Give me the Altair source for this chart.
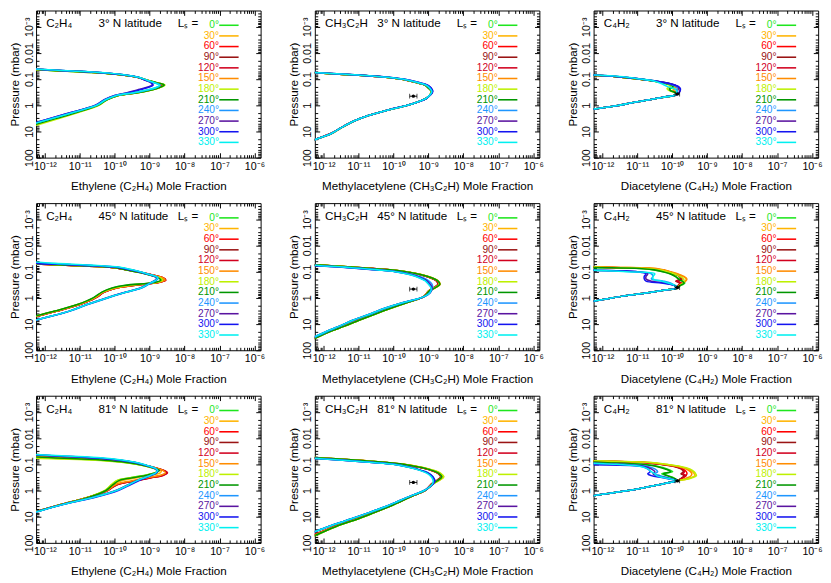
import json
import altair as alt
import pandas as pd

FONT = "Liberation Sans"
W, H = 232, 152

SEASONS = ["0°", "30°", "60°", "90°", "120°", "150°", "180°", "210°", "240°", "270°", "300°", "330°"]
SEASON_COLORS = ["#1ee61e", "#ffb400", "#ff0000", "#9a1414", "#d2001e", "#ff8c00",
                 "#bef000", "#009600", "#1e96ff", "#5a14a0", "#1414f0", "#00f0f0"]

X_DOMAIN = [5.6e-13, 1.5e-6]
Y_DOMAIN = [2.4e-4, 100]
X_MAJOR = [1e-12, 1e-11, 1e-10, 1e-9, 1e-8, 1e-7, 1e-6]
X_LABELS = ["10⁻¹²", "10⁻¹¹", "10⁻¹⁰", "10⁻⁹", "10⁻⁸", "10⁻⁷", "10⁻⁶"]
Y_MAJOR = [1e-3, 1e-2, 1e-1, 1, 10, 100]
Y_LABELS = ["10⁻³", "0.01", "0.1", "1", "10", "100"]
X_MINOR = [k * 10.0 ** e for e in range(-13, -5) for k in range(2, 10)
           if X_DOMAIN[0] <= k * 10.0 ** e <= X_DOMAIN[1]]
Y_MINOR = [k * 10.0 ** e for e in range(-4, 2) for k in range(2, 10)
           if Y_DOMAIN[0] <= k * 10.0 ** e <= Y_DOMAIN[1]]

# ---- pressure grids (mbar) ----
P_C2H4 = [0.036, 0.042, 0.048, 0.056, 0.068, 0.085, 0.11, 0.14, 0.17, 0.21, 0.26, 0.33, 0.42, 0.6, 1.0, 1.8, 3.2, 5.5, 9.0]
P_CH3C2H = [0.045, 0.052, 0.06, 0.07, 0.085, 0.1, 0.13, 0.17, 0.22, 0.3, 0.4, 0.55, 0.75, 1.0, 1.5, 2.5, 4.0, 7.0, 12.0, 20.0, 35.0, 60.0]
P_C4H2 = [0.06, 0.068, 0.075, 0.085, 0.1, 0.12, 0.15, 0.19, 0.23, 0.27, 0.32, 0.37, 0.42, 0.5, 0.62, 0.8, 1.05, 1.4, 1.9]

# ---- log10 mole fraction ----
C2H4_03N = {
    "0°":   [-13.0, -12.35, -11.55, -10.55, -9.8, -9.33, -9.07, -8.78, -8.58, -8.72, -8.95, -9.35, -9.9, -10.22, -10.5, -11.1, -11.75, -12.35, -12.9],
    "30°":  [-13.0, -12.35, -11.55, -10.6, -9.8, -9.35, -9.08, -8.8, -8.6, -8.73, -8.97, -9.37, -9.9, -10.22, -10.5, -11.1, -11.75, -12.35, -12.9],
    "60°":  [-13.0, -12.3, -11.5, -10.55, -9.82, -9.35, -9.08, -8.82, -8.63, -8.75, -8.98, -9.4, -9.92, -10.23, -10.5, -11.12, -11.78, -12.38, -12.95],
    "90°":  [-13.0, -12.3, -11.5, -10.55, -9.82, -9.35, -9.1, -8.83, -8.64, -8.76, -9.0, -9.4, -9.93, -10.23, -10.5, -11.12, -11.78, -12.38, -12.95],
    "120°": [-13.0, -12.3, -11.5, -10.55, -9.82, -9.36, -9.1, -8.83, -8.63, -8.75, -8.99, -9.4, -9.92, -10.23, -10.5, -11.12, -11.78, -12.38, -12.95],
    "150°": [-13.0, -12.32, -11.52, -10.55, -9.8, -9.34, -9.08, -8.81, -8.61, -8.74, -8.97, -9.38, -9.9, -10.22, -10.5, -11.1, -11.76, -12.36, -12.92],
    "180°": [-13.1, -12.45, -11.65, -10.65, -9.85, -9.35, -9.07, -8.77, -8.56, -8.7, -8.93, -9.33, -9.88, -10.2, -10.45, -11.0, -11.6, -12.2, -12.75],
    "210°": [-13.05, -12.4, -11.6, -10.6, -9.83, -9.34, -9.07, -8.78, -8.58, -8.72, -8.95, -9.35, -9.9, -10.21, -10.48, -11.05, -11.7, -12.3, -12.85],
    "240°": [-12.9, -12.2, -11.4, -10.45, -9.75, -9.32, -9.08, -8.85, -8.7, -8.8, -9.05, -9.45, -9.95, -10.25, -10.52, -11.15, -11.8, -12.42, -13.0],
    "270°": [-12.9, -12.2, -11.4, -10.45, -9.75, -9.33, -9.12, -8.95, -8.93, -9.1, -9.35, -9.65, -10.0, -10.28, -10.55, -11.2, -11.85, -12.47, -13.05],
    "300°": [-12.9, -12.2, -11.4, -10.45, -9.75, -9.33, -9.12, -8.95, -8.9, -9.05, -9.3, -9.62, -10.0, -10.28, -10.55, -11.2, -11.85, -12.47, -13.05],
    "330°": [-12.85, -12.15, -11.35, -10.4, -9.73, -9.32, -9.08, -8.85, -8.72, -8.82, -9.08, -9.47, -9.96, -10.25, -10.52, -11.15, -11.8, -12.42, -13.0],
}
C2H4_45N = {
    "0°":   [-13.4, -13.0, -12.5, -11.3, -10.1, -9.65, -9.25, -8.95, -8.75, -8.66, -8.85, -9.65, -10.05, -10.35, -10.6, -11.05, -11.7, -12.4, -13.0],
    "30°":  [-13.5, -13.1, -12.6, -11.4, -10.15, -9.65, -9.22, -8.9, -8.68, -8.6, -8.8, -9.55, -10.0, -10.33, -10.58, -11.05, -11.7, -12.4, -13.0],
    "60°":  [-13.5, -13.1, -12.6, -11.4, -10.15, -9.62, -9.2, -8.85, -8.62, -8.54, -8.75, -9.4, -9.95, -10.3, -10.55, -11.0, -11.65, -12.35, -12.95],
    "90°":  [-13.5, -13.1, -12.6, -11.4, -10.15, -9.62, -9.2, -8.86, -8.63, -8.55, -8.77, -9.42, -9.95, -10.3, -10.55, -11.0, -11.65, -12.35, -12.95],
    "120°": [-13.5, -13.1, -12.6, -11.4, -10.15, -9.62, -9.2, -8.85, -8.62, -8.54, -8.76, -9.4, -9.95, -10.3, -10.55, -11.0, -11.65, -12.35, -12.95],
    "150°": [-13.5, -13.1, -12.6, -11.4, -10.15, -9.63, -9.2, -8.86, -8.63, -8.56, -8.78, -9.45, -9.97, -10.32, -10.57, -11.02, -11.67, -12.37, -12.97],
    "180°": [-13.4, -13.0, -12.5, -11.3, -10.1, -9.63, -9.22, -8.9, -8.7, -8.63, -8.83, -9.6, -10.03, -10.35, -10.6, -11.05, -11.7, -12.4, -13.0],
    "210°": [-13.4, -13.0, -12.5, -11.3, -10.1, -9.65, -9.25, -8.95, -8.76, -8.68, -8.88, -9.7, -10.08, -10.37, -10.62, -11.07, -11.72, -12.42, -13.02],
    "240°": [-13.0, -12.6, -12.0, -10.9, -9.9, -9.52, -9.18, -8.9, -8.76, -8.8, -8.93, -9.08, -9.23, -9.65, -10.2, -10.78, -11.28, -11.93, -12.58],
    "270°": [-13.1, -12.7, -12.2, -11.0, -9.95, -9.55, -9.2, -8.93, -8.8, -8.84, -8.97, -9.12, -9.27, -9.68, -10.24, -10.8, -11.3, -11.95, -12.6],
    "300°": [-13.1, -12.7, -12.2, -11.0, -9.95, -9.55, -9.2, -8.92, -8.78, -8.82, -8.95, -9.1, -9.25, -9.67, -10.23, -10.8, -11.3, -11.95, -12.6],
    "330°": [-12.8, -12.3, -11.7, -10.7, -9.85, -9.5, -9.17, -8.9, -8.77, -8.82, -8.96, -9.1, -9.25, -9.66, -10.22, -10.8, -11.3, -11.95, -12.6],
}
C2H4_81N = {
    "0°":   [-13.7, -13.3, -12.8, -12.0, -10.5, -9.7, -9.18, -8.88, -8.73, -8.85, -9.12, -9.58, -9.93, -10.08, -10.27, -10.75, -11.45, -12.1, -12.65],
    "30°":  [-13.7, -13.3, -12.8, -11.9, -10.45, -9.65, -9.15, -8.82, -8.66, -8.7, -8.95, -9.4, -9.8, -10.05, -10.25, -10.75, -11.45, -12.1, -12.65],
    "60°":  [-13.4, -12.9, -12.3, -11.2, -10.1, -9.5, -9.1, -8.8, -8.6, -8.5, -8.62, -9.0, -9.4, -9.95, -10.22, -10.75, -11.45, -12.1, -12.65],
    "90°":  [-13.4, -12.9, -12.3, -11.2, -10.1, -9.5, -9.1, -8.8, -8.6, -8.52, -8.65, -9.03, -9.42, -9.95, -10.2, -10.75, -11.45, -12.1, -12.65],
    "120°": [-13.4, -12.9, -12.3, -11.2, -10.1, -9.5, -9.1, -8.8, -8.6, -8.49, -8.6, -8.98, -9.38, -9.93, -10.2, -10.73, -11.43, -12.08, -12.63],
    "150°": [-13.5, -13.0, -12.4, -11.4, -10.2, -9.52, -9.1, -8.8, -8.62, -8.55, -8.7, -9.1, -9.5, -9.98, -10.22, -10.75, -11.45, -12.1, -12.65],
    "180°": [-13.8, -13.5, -13.0, -12.6, -10.7, -9.75, -9.2, -8.9, -8.72, -8.85, -9.1, -9.6, -9.95, -10.1, -10.28, -10.75, -11.45, -12.1, -12.65],
    "210°": [-13.6, -13.2, -12.7, -11.8, -10.4, -9.65, -9.17, -8.87, -8.72, -8.83, -9.08, -9.52, -9.88, -10.05, -10.25, -10.73, -11.43, -12.08, -12.63],
    "240°": [-13.0, -12.4, -11.6, -10.6, -9.85, -9.4, -9.08, -8.85, -8.77, -8.8, -8.95, -9.15, -9.35, -9.6, -9.95, -10.6, -11.4, -12.05, -12.6],
    "270°": [-13.1, -12.5, -11.7, -10.7, -9.9, -9.42, -9.1, -8.87, -8.8, -8.82, -8.97, -9.18, -9.38, -9.62, -9.97, -10.62, -11.42, -12.07, -12.62],
    "300°": [-13.1, -12.5, -11.7, -10.7, -9.9, -9.42, -9.1, -8.86, -8.78, -8.8, -8.95, -9.12, -9.3, -9.55, -9.9, -10.55, -11.4, -12.05, -12.6],
    "330°": [-12.9, -12.25, -11.4, -10.4, -9.8, -9.38, -9.07, -8.85, -8.78, -8.82, -8.97, -9.17, -9.36, -9.6, -9.95, -10.6, -11.4, -12.05, -12.6],
}
CH3C2H_03N = {
    "0°":   [-13.4, -12.7, -12.0, -11.1, -10.21, -9.78, -9.4, -9.1, -9.0, -8.91, -8.96, -9.07, -9.31, -9.6, -10.15, -10.74, -11.13, -11.48, -11.78, -12.22, -12.6, -13.0],
    "30°":  [-13.4, -12.7, -12.0, -11.1, -10.22, -9.79, -9.4, -9.1, -8.99, -8.91, -8.96, -9.07, -9.31, -9.6, -10.15, -10.74, -11.13, -11.48, -11.78, -12.22, -12.6, -13.0],
    "60°":  [-13.4, -12.7, -12.0, -11.1, -10.22, -9.79, -9.41, -9.1, -8.99, -8.9, -8.95, -9.07, -9.31, -9.6, -10.15, -10.74, -11.13, -11.48, -11.79, -12.23, -12.61, -13.0],
    "90°":  [-13.4, -12.7, -12.0, -11.1, -10.22, -9.79, -9.41, -9.1, -8.99, -8.9, -8.95, -9.07, -9.31, -9.6, -10.15, -10.74, -11.13, -11.48, -11.79, -12.23, -12.61, -13.0],
    "120°": [-13.4, -12.7, -12.0, -11.1, -10.22, -9.79, -9.41, -9.1, -8.99, -8.9, -8.95, -9.07, -9.31, -9.6, -10.15, -10.74, -11.13, -11.48, -11.79, -12.23, -12.61, -13.0],
    "150°": [-13.4, -12.7, -12.0, -11.1, -10.22, -9.79, -9.4, -9.1, -8.99, -8.91, -8.96, -9.07, -9.31, -9.6, -10.15, -10.74, -11.13, -11.48, -11.78, -12.22, -12.6, -13.0],
    "180°": [-13.42, -12.72, -12.02, -11.12, -10.23, -9.8, -9.41, -9.11, -9.0, -8.91, -8.96, -9.07, -9.31, -9.6, -10.14, -10.73, -11.12, -11.46, -11.76, -12.2, -12.58, -12.98],
    "210°": [-13.4, -12.7, -12.0, -11.1, -10.21, -9.78, -9.4, -9.1, -9.0, -8.91, -8.96, -9.07, -9.31, -9.6, -10.15, -10.74, -11.13, -11.48, -11.78, -12.22, -12.6, -13.0],
    "240°": [-13.35, -12.65, -11.95, -11.05, -10.18, -9.76, -9.38, -9.08, -8.97, -8.9, -8.95, -9.07, -9.31, -9.6, -10.15, -10.74, -11.13, -11.48, -11.78, -12.22, -12.6, -13.0],
    "270°": [-13.3, -12.6, -11.9, -11.0, -10.15, -9.72, -9.33, -9.03, -8.93, -8.88, -8.94, -9.06, -9.3, -9.6, -10.15, -10.74, -11.13, -11.48, -11.78, -12.22, -12.6, -13.0],
    "300°": [-13.3, -12.6, -11.9, -11.0, -10.14, -9.71, -9.32, -9.02, -8.92, -8.88, -8.94, -9.06, -9.3, -9.6, -10.15, -10.74, -11.13, -11.48, -11.78, -12.22, -12.6, -13.0],
    "330°": [-13.3, -12.6, -11.9, -11.0, -10.15, -9.74, -9.36, -9.06, -8.96, -8.9, -8.95, -9.07, -9.31, -9.6, -10.15, -10.74, -11.13, -11.48, -11.78, -12.22, -12.6, -13.0],
}
CH3C2H_45N = {
    "0°":   [-13.2, -12.5, -11.7, -10.9, -10.1, -9.65, -9.2, -8.92, -8.75, -8.68, -8.8, -8.98, -9.06, -9.2, -9.6, -10.08, -10.5, -10.97, -11.4, -11.85, -12.25, -12.7],
    "30°":  [-13.2, -12.5, -11.7, -10.9, -10.1, -9.63, -9.18, -8.9, -8.73, -8.66, -8.78, -8.97, -9.06, -9.2, -9.6, -10.08, -10.5, -10.97, -11.4, -11.85, -12.25, -12.7],
    "60°":  [-13.25, -12.55, -11.75, -10.95, -10.12, -9.67, -9.22, -8.94, -8.77, -8.72, -8.83, -9.0, -9.08, -9.2, -9.63, -10.12, -10.53, -11.0, -11.42, -11.87, -12.27, -12.72],
    "90°":  [-13.25, -12.55, -11.75, -10.95, -10.13, -9.68, -9.23, -8.95, -8.78, -8.73, -8.84, -9.0, -9.08, -9.2, -9.63, -10.12, -10.53, -11.0, -11.42, -11.87, -12.27, -12.72],
    "120°": [-13.25, -12.55, -11.75, -10.95, -10.12, -9.67, -9.22, -8.94, -8.77, -8.71, -8.82, -8.99, -9.07, -9.2, -9.63, -10.12, -10.53, -11.0, -11.42, -11.87, -12.27, -12.72],
    "150°": [-13.2, -12.5, -11.7, -10.9, -10.1, -9.64, -9.19, -8.91, -8.74, -8.68, -8.79, -8.98, -9.07, -9.2, -9.61, -10.1, -10.51, -10.98, -11.41, -11.86, -12.26, -12.71],
    "180°": [-13.2, -12.5, -11.7, -10.9, -10.1, -9.64, -9.19, -8.91, -8.74, -8.69, -8.81, -8.99, -9.07, -9.2, -9.6, -10.08, -10.5, -10.97, -11.4, -11.85, -12.25, -12.7],
    "210°": [-13.2, -12.5, -11.7, -10.9, -10.1, -9.65, -9.2, -8.91, -8.74, -8.67, -8.79, -8.98, -9.06, -9.2, -9.6, -10.08, -10.5, -10.97, -11.4, -11.85, -12.25, -12.7],
    "240°": [-13.35, -12.7, -12.0, -11.2, -10.4, -9.88, -9.42, -9.15, -9.0, -8.9, -8.88, -8.92, -9.02, -9.2, -9.7, -10.22, -10.62, -11.12, -11.52, -11.92, -12.32, -12.72],
    "270°": [-13.4, -12.75, -12.05, -11.25, -10.45, -9.92, -9.47, -9.22, -9.05, -8.95, -8.9, -8.92, -9.02, -9.21, -9.72, -10.25, -10.65, -11.15, -11.55, -11.95, -12.35, -12.75],
    "300°": [-13.4, -12.8, -12.1, -11.3, -10.5, -9.95, -9.5, -9.25, -9.08, -8.98, -8.92, -8.93, -9.02, -9.22, -9.72, -10.25, -10.65, -11.15, -11.55, -11.95, -12.35, -12.75],
    "330°": [-13.3, -12.7, -12.0, -11.2, -10.45, -9.95, -9.52, -9.27, -9.1, -9.0, -8.93, -8.93, -9.02, -9.22, -9.72, -10.25, -10.65, -11.15, -11.55, -11.95, -12.35, -12.75],
}
CH3C2H_81N = {
    "0°":   [-13.3, -12.6, -11.8, -11.0, -10.2, -9.72, -9.23, -8.88, -8.68, -8.59, -8.7, -8.87, -8.98, -9.1, -9.4, -9.77, -10.1, -10.55, -11.0, -11.5, -11.95, -12.35],
    "30°":  [-13.3, -12.6, -11.8, -11.0, -10.2, -9.7, -9.21, -8.86, -8.66, -8.57, -8.68, -8.85, -8.97, -9.1, -9.4, -9.77, -10.1, -10.55, -11.0, -11.5, -11.95, -12.35],
    "60°":  [-13.35, -12.65, -11.85, -11.05, -10.25, -9.75, -9.26, -8.92, -8.72, -8.64, -8.74, -8.9, -9.0, -9.1, -9.4, -9.78, -10.12, -10.58, -11.05, -11.55, -12.0, -12.45],
    "90°":  [-13.35, -12.65, -11.85, -11.05, -10.25, -9.76, -9.27, -8.93, -8.73, -8.65, -8.75, -8.9, -9.0, -9.1, -9.4, -9.78, -10.12, -10.58, -11.05, -11.55, -12.0, -12.45],
    "120°": [-13.35, -12.65, -11.85, -11.05, -10.25, -9.75, -9.26, -8.92, -8.72, -8.63, -8.73, -8.9, -9.0, -9.1, -9.4, -9.78, -10.12, -10.58, -11.05, -11.55, -12.0, -12.45],
    "150°": [-13.3, -12.6, -11.8, -11.0, -10.22, -9.72, -9.24, -8.9, -8.7, -8.62, -8.72, -8.88, -8.99, -9.1, -9.4, -9.78, -10.11, -10.57, -11.03, -11.53, -11.98, -12.4],
    "180°": [-13.3, -12.6, -11.8, -11.0, -10.2, -9.7, -9.2, -8.85, -8.65, -8.56, -8.68, -8.85, -8.97, -9.1, -9.4, -9.77, -10.1, -10.55, -11.0, -11.5, -11.95, -12.35],
    "210°": [-13.3, -12.6, -11.8, -11.0, -10.2, -9.72, -9.24, -8.9, -8.7, -8.62, -8.72, -8.88, -8.98, -9.1, -9.4, -9.77, -10.1, -10.55, -11.0, -11.5, -11.95, -12.35],
    "240°": [-13.45, -12.85, -12.15, -11.4, -10.55, -9.97, -9.52, -9.2, -8.98, -8.87, -8.83, -8.87, -8.98, -9.12, -9.45, -9.85, -10.2, -10.7, -11.2, -11.7, -12.2, -12.7],
    "270°": [-13.5, -12.9, -12.2, -11.45, -10.6, -10.0, -9.55, -9.22, -9.0, -8.88, -8.82, -8.86, -8.98, -9.12, -9.45, -9.85, -10.2, -10.7, -11.2, -11.7, -12.2, -12.7],
    "300°": [-13.5, -12.9, -12.2, -11.45, -10.6, -10.0, -9.55, -9.22, -9.0, -8.88, -8.82, -8.86, -8.98, -9.12, -9.45, -9.85, -10.2, -10.7, -11.2, -11.7, -12.2, -12.7],
    "330°": [-13.5, -12.9, -12.2, -11.45, -10.6, -10.02, -9.57, -9.25, -9.04, -8.92, -8.87, -8.88, -8.98, -9.12, -9.45, -9.85, -10.2, -10.7, -11.2, -11.7, -12.2, -12.7],
}
# the C4H2 profiles share one lower branch below ~0.4 mbar in each panel
C4H2_TAIL_03N = [-9.95, -10.3, -10.65, -11.15, -11.6, -12.25, -12.8]
C4H2_TAIL_45N = [-9.85, -10.2, -10.65, -11.25, -11.8, -12.35, -12.95]
C4H2_TAIL_81N = [-9.85, -10.1, -10.42, -10.85, -11.35, -12.0, -12.65]
C4H2_03N = {
    "0°":   [-13.4, -12.6, -11.95, -11.45, -10.95, -10.5, -10.15, -9.95, -10.05, -10.05, -9.92, -9.86] + C4H2_TAIL_03N,
    "30°":  [-13.4, -12.6, -11.95, -11.45, -10.95, -10.5, -10.12, -9.9, -9.95, -9.98, -9.9, -9.86] + C4H2_TAIL_03N,
    "60°":  [-13.4, -12.6, -11.95, -11.45, -10.95, -10.48, -10.1, -9.88, -9.85, -9.88, -9.88, -9.86] + C4H2_TAIL_03N,
    "90°":  [-13.4, -12.6, -11.95, -11.45, -10.95, -10.48, -10.08, -9.86, -9.82, -9.85, -9.87, -9.86] + C4H2_TAIL_03N,
    "120°": [-13.4, -12.6, -11.95, -11.45, -10.95, -10.48, -10.1, -9.88, -9.84, -9.87, -9.88, -9.86] + C4H2_TAIL_03N,
    "150°": [-13.4, -12.6, -11.95, -11.45, -10.95, -10.5, -10.12, -9.9, -9.93, -9.96, -9.9, -9.86] + C4H2_TAIL_03N,
    "180°": [-13.4, -12.6, -11.95, -11.45, -10.95, -10.52, -10.18, -10.05, -10.15, -10.1, -9.95, -9.87] + C4H2_TAIL_03N,
    "210°": [-13.4, -12.6, -11.95, -11.45, -10.95, -10.5, -10.16, -9.98, -10.08, -10.06, -9.93, -9.86] + C4H2_TAIL_03N,
    "240°": [-13.3, -12.5, -11.85, -11.35, -10.9, -10.45, -10.1, -9.9, -9.85, -9.85, -9.86, -9.86] + C4H2_TAIL_03N,
    "270°": [-13.3, -12.5, -11.85, -11.35, -10.9, -10.45, -10.05, -9.84, -9.78, -9.78, -9.8, -9.84] + C4H2_TAIL_03N,
    "300°": [-13.3, -12.5, -11.85, -11.35, -10.9, -10.45, -10.05, -9.83, -9.77, -9.77, -9.8, -9.84] + C4H2_TAIL_03N,
    "330°": [-13.2, -12.4, -11.8, -11.3, -10.9, -10.5, -10.3, -10.15, -9.95, -9.88, -9.87, -9.86] + C4H2_TAIL_03N,
}
C4H2_45N = {
    "0°":   [-13.2, -12.4, -10.9, -10.5, -10.25, -10.05, -9.9, -9.8, -9.7, -9.64, -9.72, -9.82] + C4H2_TAIL_45N,
    "30°":  [-13.0, -11.8, -10.55, -10.3, -10.08, -9.88, -9.7, -9.6, -9.63, -9.72, -9.8, -9.84] + C4H2_TAIL_45N,
    "60°":  [-13.1, -12.0, -10.7, -10.35, -10.1, -9.92, -9.78, -9.72, -9.85, -9.75, -9.8, -9.84] + C4H2_TAIL_45N,
    "90°":  [-13.1, -12.0, -10.7, -10.35, -10.12, -9.95, -9.8, -9.75, -9.9, -9.78, -9.82, -9.84] + C4H2_TAIL_45N,
    "120°": [-13.1, -12.0, -10.7, -10.35, -10.1, -9.92, -9.78, -9.73, -9.88, -9.74, -9.8, -9.84] + C4H2_TAIL_45N,
    "150°": [-13.0, -11.7, -10.45, -10.25, -10.05, -9.85, -9.67, -9.58, -9.62, -9.7, -9.78, -9.83] + C4H2_TAIL_45N,
    "180°": [-13.1, -12.1, -10.7, -10.4, -10.15, -9.95, -9.78, -9.68, -9.66, -9.68, -9.75, -9.82] + C4H2_TAIL_45N,
    "210°": [-13.2, -12.4, -10.95, -10.52, -10.27, -10.07, -9.92, -9.82, -9.72, -9.66, -9.74, -9.82] + C4H2_TAIL_45N,
    "240°": [-13.8, -13.4, -13.0, -12.5, -11.1, -10.6, -10.55, -10.6, -10.25, -10.05, -9.95, -9.88] + C4H2_TAIL_45N,
    "270°": [-13.8, -13.4, -13.0, -12.6, -11.0, -10.7, -10.75, -10.75, -10.6, -10.2, -9.98, -9.88] + C4H2_TAIL_45N,
    "300°": [-13.8, -13.4, -13.0, -12.6, -11.0, -10.75, -10.8, -10.8, -10.75, -10.3, -9.97, -9.88] + C4H2_TAIL_45N,
    "330°": [-13.8, -13.4, -13.0, -12.4, -11.3, -10.5, -10.55, -10.55, -10.3, -10.12, -9.95, -9.88] + C4H2_TAIL_45N,
}
C4H2_81N = {
    "0°":   [-13.5, -13.2, -12.8, -12.0, -10.9, -10.4, -10.15, -9.99, -10.3, -10.12, -9.98, -9.9] + C4H2_TAIL_81N,
    "30°":  [-13.3, -12.8, -11.9, -10.65, -10.2, -9.8, -9.55, -9.42, -9.37, -9.35, -9.45, -9.6] + C4H2_TAIL_81N,
    "60°":  [-13.4, -13.0, -12.1, -10.8, -10.3, -9.9, -9.7, -9.6, -9.58, -9.62, -9.68, -9.75] + C4H2_TAIL_81N,
    "90°":  [-13.4, -13.0, -12.1, -10.85, -10.35, -9.95, -9.75, -9.68, -9.75, -9.65, -9.72, -9.77] + C4H2_TAIL_81N,
    "120°": [-13.4, -13.0, -12.1, -10.8, -10.32, -9.92, -9.72, -9.65, -9.7, -9.6, -9.7, -9.76] + C4H2_TAIL_81N,
    "150°": [-13.35, -12.9, -12.0, -10.7, -10.25, -9.85, -9.6, -9.48, -9.44, -9.46, -9.55, -9.68] + C4H2_TAIL_81N,
    "180°": [-13.3, -12.8, -11.9, -10.6, -10.15, -9.76, -9.5, -9.38, -9.33, -9.31, -9.42, -9.58] + C4H2_TAIL_81N,
    "210°": [-13.5, -13.2, -12.8, -12.0, -10.9, -10.45, -10.2, -10.05, -10.25, -10.15, -10.0, -9.9] + C4H2_TAIL_81N,
    "240°": [-13.7, -13.4, -13.1, -12.7, -11.4, -10.7, -10.5, -10.42, -10.5, -10.35, -10.15, -9.98] + C4H2_TAIL_81N,
    "270°": [-13.7, -13.4, -13.1, -12.8, -11.5, -10.8, -10.6, -10.5, -10.55, -10.45, -10.2, -10.0] + C4H2_TAIL_81N,
    "300°": [-13.8, -13.5, -13.2, -13.0, -12.6, -10.86, -10.7, -10.63, -10.7, -10.6, -10.3, -10.05] + C4H2_TAIL_81N,
    "330°": [-13.7, -13.4, -13.1, -12.8, -11.6, -10.9, -10.7, -10.6, -10.5, -10.45, -10.25, -10.02] + C4H2_TAIL_81N,
}

# observation with error bar: (value, low, high, pressure mbar)
OBS_CH3C2H = [(3.7e-10, 2.9e-10, 4.7e-10, 0.45), (3.7e-10, 2.9e-10, 4.7e-10, 0.46), (3.7e-10, 2.9e-10, 4.7e-10, 0.49)]
OBS_C4H2 = [(1.4e-10, 1.2e-10, 1.62e-10, 0.37), (1.4e-10, 1.2e-10, 1.62e-10, 0.40), (1.4e-10, 1.2e-10, 1.62e-10, 0.43)]

LATS = ["3° N latitude", "45° N latitude", "81° N latitude"]
SPECIES = [
    ("C₂H₄", "Ethylene (C₂H₄) Mole Fraction", P_C2H4, [C2H4_03N, C2H4_45N, C2H4_81N], None),
    ("CH₃C₂H", "Methylacetylene (CH₃C₂H) Mole Fraction", P_CH3C2H, [CH3C2H_03N, CH3C2H_45N, CH3C2H_81N], OBS_CH3C2H),
    ("C₄H₂", "Diacetylene (C₄H₂) Mole Fraction", P_C4H2, [C4H2_03N, C4H2_45N, C4H2_81N], OBS_C4H2),
]

X_EXPR = json.dumps(X_LABELS, ensure_ascii=False) + "[round(log(datum.value)/LN10)+12]"
Y_EXPR = json.dumps(Y_LABELS, ensure_ascii=False) + "[round(log(datum.value)/LN10)+3]"
COLOR_EXPR = json.dumps(SEASON_COLORS) + "[datum.index]"

TXT = dict(titleAngle=0, titleAlign="left", titleBaseline="alphabetic", titleFontSize=12,
           titleFontWeight="normal", titleFont=FONT, titleColor="black")


def tick_axis(orient, values, size, title=None, **kw):
    args = dict(orient=orient, values=values, labels=False, domain=False, grid=False,
                ticks=True, tickSize=size, tickWidth=1, tickColor="black", offset=-size)
    if title is None:
        args["title"] = None
    else:
        args.update(TXT)
        args.update(title=title, **kw)
    return alt.Axis(**args)


def make_panel(species, lat, xtitle, pgrid, curves, obs):
    rows = []
    for s in SEASONS:
        vals = curves[s]
        assert len(vals) == len(pgrid), (species, lat, s)
        for i, (p, lx) in enumerate(zip(pgrid, vals)):
            rows.append({"season": s, "i": i, "P": p, "x": 10.0 ** lx})
    df = pd.DataFrame(rows)
    xs = alt.Scale(type="log", domain=X_DOMAIN, nice=False)
    ys = alt.Scale(type="log", domain=Y_DOMAIN, reverse=True, nice=False)
    base = alt.Chart(df)

    legend = alt.Legend(
        title=None, orient="none", legendX=194, legendY=10, direction="vertical",
        symbolType="M-4,0H4", symbolSize=25, symbolStrokeWidth=1.6, symbolOpacity=1,
        labelAlign="right", labelOffset={"expr": "-15.5"}, labelFont=FONT, labelFontSize=10.5,
        labelColor={"expr": COLOR_EXPR}, rowPadding=0, padding=0, labelLimit=80,
    )
    lines = base.mark_line(strokeWidth=1.6, clip=True, interpolate="catmull-rom").encode(
        x=alt.X("x:Q", scale=xs, axis=alt.Axis(
            orient="bottom", values=X_MAJOR, labelExpr=X_EXPR, ticks=False, tickSize=0,
            domain=False, grid=False, labelPadding=3, labelFlush=False, labelOverlap=False,
            labelFontSize=11, title=xtitle, titleFontSize=12, titleFontWeight="normal",
            titlePadding=10)),
        y=alt.Y("P:Q", scale=ys, axis=alt.Axis(
            orient="left", values=Y_MAJOR, labelExpr=Y_EXPR, ticks=False, tickSize=0,
            domain=False, grid=False, labelAngle=270, labelPadding=2, labelFlush=False,
            labelOverlap=False, labelFontSize=11, title="Pressure (mbar)", titleFontSize=12,
            titleFontWeight="normal", titlePadding=2)),
        color=alt.Color("season:N", scale=alt.Scale(domain=SEASONS, range=SEASON_COLORS), legend=legend),
        order=alt.Order("i:Q"),
    )

    def ghost(xaxis, yaxis):
        return base.mark_point(opacity=0, clip=True).encode(
            x=alt.X("x:Q", scale=xs, axis=xaxis), y=alt.Y("P:Q", scale=ys, axis=yaxis))

    layers = [
        lines,
        ghost(tick_axis("bottom", X_MAJOR, 5),
              tick_axis("left", Y_MAJOR, 5, title=species, titleX=5, titleY=17)),
        ghost(tick_axis("bottom", X_MINOR, 3), tick_axis("left", Y_MINOR, 3)),
        ghost(tick_axis("top", X_MAJOR, 5, title=lat, titleX=64, titleY=12),
              tick_axis("right", Y_MAJOR, 5)),
        ghost(tick_axis("top", X_MINOR, 3, title="Lₛ =", titleX=146, titleY=14),
              tick_axis("right", Y_MINOR, 3)),
    ]
    if obs is not None:
        od = pd.DataFrame({"x": [obs[0]], "lo": [obs[1]], "hi": [obs[2]], "P": [obs[3]]})
        ob = alt.Chart(od)
        ye = alt.Y("P:Q", scale=ys, axis=None)
        layers += [
            ob.mark_rule(color="black", strokeWidth=1).encode(
                x=alt.X("lo:Q", scale=xs, axis=None), x2="hi:Q", y=ye),
            ob.mark_tick(color="black", orient="vertical", size=5, thickness=1).encode(
                x=alt.X("lo:Q", scale=xs, axis=None), y=ye),
            ob.mark_tick(color="black", orient="vertical", size=5, thickness=1).encode(
                x=alt.X("hi:Q", scale=xs, axis=None), y=ye),
            ob.mark_point(filled=True, color="black", size=12, opacity=1).encode(
                x=alt.X("x:Q", scale=xs, axis=None), y=ye),
        ]
    return alt.layer(*layers).resolve_axis(x="independent", y="independent").properties(width=W, height=H)


panels = []
for r, lat in enumerate(LATS):
    for species, xtitle, pgrid, curve_sets, obs in SPECIES:
        panels.append(make_panel(species, lat, xtitle, pgrid, curve_sets[r],
                                 None if obs is None else obs[r]))

chart = (
    alt.concat(*panels, columns=3, spacing={"row": 10, "column": 22})
    .resolve_legend(color="independent")
    .properties(padding={"top": -8, "left": 0, "right": 0, "bottom": 0}, background="white")
    .configure_view(stroke="black", strokeWidth=1)
    .configure_axis(labelFont=FONT, titleFont=FONT, labelColor="black", titleColor="black")
    .configure_legend(labelFont=FONT)
)
chart.save("out.html", embed_options={"renderer": "svg", "actions": False})
